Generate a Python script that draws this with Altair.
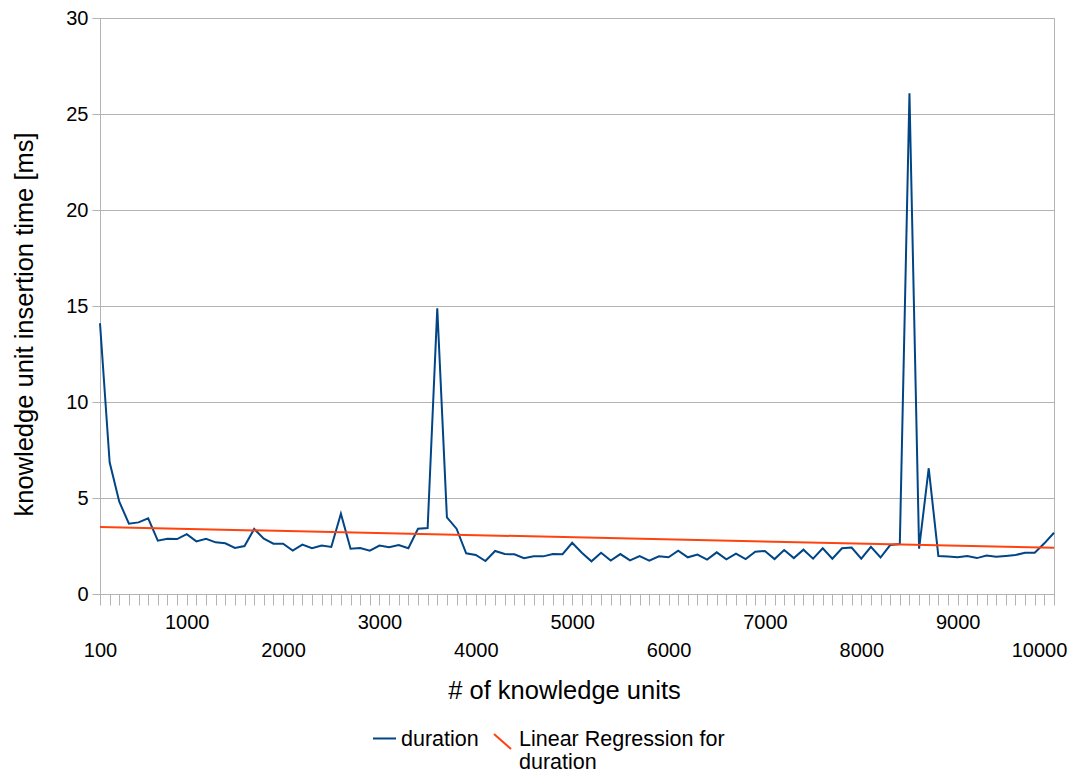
import altair as alt
import pandas as pd

# ---- data ----
knowledge_units = list(range(100, 10001, 100))
duration_ms = [
    14.1, 6.86, 4.81, 3.66, 3.73, 3.94, 2.78, 2.88, 2.86, 3.12,
    2.74, 2.88, 2.69, 2.64, 2.40, 2.50, 3.39, 2.88, 2.62, 2.62,
    2.26, 2.57, 2.38, 2.52, 2.45, 4.18, 2.36, 2.40, 2.26, 2.52,
    2.43, 2.55, 2.38, 3.40, 3.44, 14.88, 3.99, 3.40, 2.12, 2.03,
    1.72, 2.24, 2.08, 2.07, 1.86, 1.96, 1.96, 2.08, 2.07, 2.67,
    2.15, 1.70, 2.15, 1.74, 2.08, 1.75, 1.98, 1.74, 1.96, 1.91,
    2.26, 1.91, 2.05, 1.79, 2.17, 1.81, 2.10, 1.82, 2.20, 2.24,
    1.82, 2.29, 1.87, 2.31, 1.84, 2.38, 1.84, 2.38, 2.42, 1.84,
    2.46, 1.90, 2.55, 2.60, 26.08, 2.36, 6.55, 1.98, 1.95, 1.91,
    1.98, 1.87, 2.00, 1.94, 1.98, 2.03, 2.15, 2.15, 2.64, 3.19,
]
regression_units = [100, 10000]
regression_ms = [3.49, 2.41]
x_label_values = [100, 1000, 2000, 3000, 4000, 5000, 6000, 7000, 8000, 9000, 10000]
y_tick_values = [0, 5, 10, 15, 20, 25, 30]
series_names = ["duration", "Linear Regression for duration"]
series_colors = ["#004586", "#ff420e"]
# legend glyphs: a horizontal stroke and a "\" stroke (raised to line up with the first label line)
series_symbols = ["M-1,-0.11L1,-0.11", "M-0.74,-0.50L0.74,0.80"]

dur_df = pd.DataFrame({"units": knowledge_units, "ms": duration_ms, "series": series_names[0]})
reg_df = pd.DataFrame({"units": regression_units, "ms": regression_ms, "series": series_names[1]})
all_df = pd.concat([dur_df, reg_df], ignore_index=True)

GRAY = "#b3b3b3"
FONT = "Liberation Sans"
label_list = "[" + ",".join(str(v) for v in x_label_values) + "]"

x_enc = alt.X(
    "units:Q",
    scale=alt.Scale(domain=[100, 10000], nice=False, zero=False),
    axis=alt.Axis(
        values=knowledge_units,
        tickCount=500,
        labelExpr=f"indexof({label_list}, datum.value) >= 0 ? format(datum.value, 'd') : ''",
        labelOverlap=False,
        labelFlush=False,
        grid=False,
        tickSize=11,
        tickColor=GRAY,
        domainColor=GRAY,
        labelFontSize=20,
        labelColor="black",
        labelPadding={"condition": {"test": "datum.value % 2000 == 1000", "value": 7}, "value": 35},
        labelOffset={"condition": {"test": "datum.value == 10000", "value": -15}, "value": 0},
        title="# of knowledge units",
        titleFontSize=25.5,
        titleFontWeight="normal",
        titleColor="black",
        titleX=464,
        titleY=104,
        titleBaseline="alphabetic",
    ),
)

y_enc = alt.Y(
    "ms:Q",
    scale=alt.Scale(domain=[0, 30], nice=False),
    axis=alt.Axis(
        values=y_tick_values,
        grid=True,
        gridColor=GRAY,
        tickSize=8,
        tickColor=GRAY,
        domainColor=GRAY,
        labelFontSize=20,
        labelColor="black",
        labelPadding=4,
        title="knowledge unit insertion time [ms]",
        titleFontSize=25.5,
        titleFontWeight="normal",
        titleColor="black",
        titleX=-68,
        titleY=306,
        titleBaseline="alphabetic",
    ),
)

legend = alt.Legend(
    orient="none",
    legendX=272,
    legendY=709,
    direction="horizontal",
    columns=2,
    title=None,
    symbolSize=529,
    symbolStrokeWidth=2,
    symbolOpacity=1,
    labelFontSize=21.5,
    labelFont=FONT,
    labelColor="black",
    labelLimit=500,
    labelOffset=4,
    columnPadding=10,
    padding=0,
    labelExpr=(
        "datum.label == 'Linear Regression for duration' ? ['Linear Regression for', 'duration'] "
        ": [datum.label, '']"
    ),
)

line_dur = alt.Chart(dur_df).mark_line(color=series_colors[0], strokeWidth=2).encode(x=x_enc, y=y_enc)
line_reg = alt.Chart(reg_df).mark_line(color=series_colors[1], strokeWidth=2).encode(x="units:Q", y="ms:Q")
legend_layer = alt.Chart(all_df).mark_point(filled=False, opacity=0, strokeWidth=2).encode(
    x="units:Q",
    y="ms:Q",
    color=alt.Color("series:N", scale=alt.Scale(domain=series_names, range=series_colors), legend=legend),
    shape=alt.Shape("series:N", scale=alt.Scale(domain=series_names, range=series_symbols), legend=legend),
)

chart = (
    alt.layer(line_dur, line_reg, legend_layer)
    .properties(
        width=954,
        height=576,
        autosize=alt.AutoSizeParams(type="none"),
        padding={"left": 92, "top": 10, "right": 14, "bottom": 180},
    )
    .configure(font=FONT, background="white")
    .configure_view(stroke=GRAY, strokeWidth=1)
    .configure_axis(labelFont=FONT, titleFont=FONT)
)

chart.save("out.html", embed_options={"renderer": "svg", "actions": False})
